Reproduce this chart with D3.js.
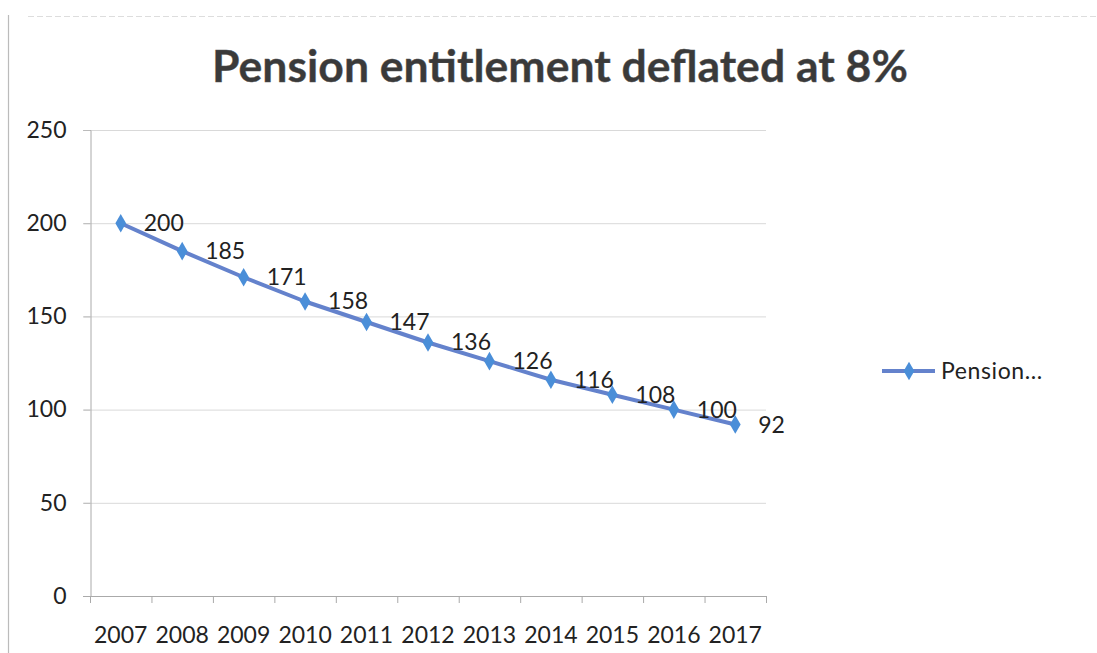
<!DOCTYPE html>
<html><head><meta charset="utf-8">
<script src="https://cdn.jsdelivr.net/npm/d3@7/dist/d3.min.js"></script>
<style>body{margin:0;background:#fff}svg{display:block}</style>
</head><body>
<svg id="c" width="1097" height="653"></svg>
<script>
const years = ["2007","2008","2009","2010","2011","2012","2013","2014","2015","2016","2017"];
const values = [200,185,171,158,147,136,126,116,108,100,92];
const yTicks = [0,50,100,150,200,250];
const title = "Pension entitlement deflated at 8%";
const seriesName = "Pension...";

const font = "Lato, 'Open Sans', sans-serif";
const svg = d3.select("#c");
const lineColor = "#6482cc", markColor = "#4a8ed8";

// chart border (scan remnants)
svg.append("line").attr("x1",8.5).attr("x2",8.5).attr("y1",15).attr("y2",653).attr("stroke","#bbb").attr("stroke-width",1.2);
svg.append("line").attr("x1",28).attr("x2",1097).attr("y1",16.5).attr("y2",16.5).attr("stroke","#ddd").attr("stroke-width",1).attr("stroke-dasharray","6,3");

const x = d3.scaleBand().domain(years).range([90,766]).padding(0);
const y = d3.scaleLinear().domain([0,250]).range([596,130]);

// gridlines
svg.append("g").selectAll("line").data(yTicks.filter(d=>d>0)).join("line")
  .attr("x1",83).attr("x2",766).attr("y1",d=>y(d)+0.5).attr("y2",d=>y(d)+0.5)
  .attr("stroke","#d9d9d9").attr("stroke-width",1);

// y axis
const yAxis = svg.append("g").attr("transform","translate(90.5,0)")
  .call(d3.axisLeft(y).tickValues(yTicks).tickSize(7).tickPadding(17));
yAxis.select(".domain").attr("stroke","#aaa");
yAxis.selectAll(".tick line").attr("stroke","#bbb");
yAxis.selectAll("text").attr("font-family",font).attr("font-size",23).attr("fill","#222");

// x axis
const xb = svg.append("g");
xb.append("line").attr("x1",83).attr("x2",766).attr("y1",596.5).attr("y2",596.5).attr("stroke","#aaa");
const bounds = years.map(d=>x(d)).concat([x(years[years.length-1])+x.bandwidth()]);
xb.selectAll("line.t").data(bounds).join("line").attr("class","t")
  .attr("x1",d=>d+0.5).attr("x2",d=>d+0.5).attr("y1",596).attr("y2",603).attr("stroke","#aaa");
xb.selectAll("text").data(years).join("text")
  .attr("x",d=>x(d)+x.bandwidth()/2).attr("y",643)
  .attr("text-anchor","middle").attr("font-family",font).attr("font-size",23).attr("fill","#222")
  .text(d=>d);

// line
const pts = years.map((d,i)=>[x(d)+x.bandwidth()/2, y(values[i])]);
svg.append("path").attr("d",d3.line()(pts)).attr("fill","none")
  .attr("stroke",lineColor).attr("stroke-width",4).attr("stroke-linejoin","round");
const diamond = d3.symbol().type(d3.symbolDiamond).size(100);
svg.append("g").selectAll("path").data(pts).join("path")
  .attr("transform",d=>`translate(${d[0]},${d[1]})`).attr("d",diamond).attr("fill",markColor);

// data labels
svg.append("g").selectAll("text").data(pts).join("text")
  .attr("x",d=>d[0]+23).attr("y",d=>d[1]+8)
  .attr("font-family",font).attr("font-size",23).attr("fill","#222")
  .text((d,i)=>values[i]);

// title
svg.append("text").attr("x",560).attr("y",82).attr("text-anchor","middle")
  .attr("font-family",font).attr("font-weight","bold").attr("font-size",44.5)
  .attr("fill","#3a3a3a").attr("stroke","#555").attr("stroke-width",0.4).text(title);

// legend
const lg = svg.append("g").attr("transform","translate(882,371)");
lg.append("line").attr("x1",0).attr("x2",53).attr("stroke",lineColor).attr("stroke-width",4);
lg.append("path").attr("transform","translate(27,0)").attr("d",diamond).attr("fill",markColor);
lg.append("text").attr("x",59).attr("y",8).attr("font-family",font).attr("font-size",23).attr("letter-spacing",0.6).attr("fill","#222").text(seriesName);
</script>
</body></html>
